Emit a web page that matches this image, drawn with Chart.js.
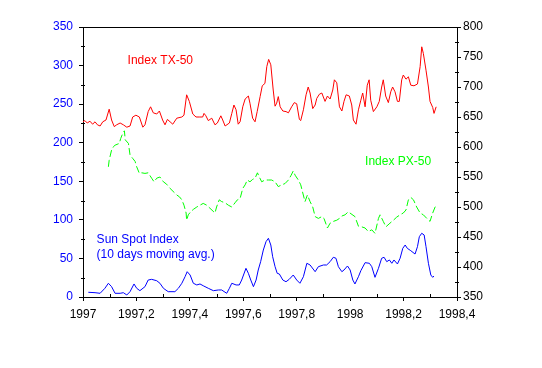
<!DOCTYPE html>
<html>
<head>
<meta charset="utf-8">
<script src="https://cdn.jsdelivr.net/npm/chart.js@4/dist/chart.umd.min.js"></script>
<style>
    html, body { margin: 0; padding: 0; background: #fff; }
    canvas { display: block; }
</style>
</head>
<body>
<canvas id="chart" width="542" height="368"></canvas>
<script>
// Index TX-50 (right axis)
const txYears = [1997.000, 1997.007, 1997.016, 1997.026, 1997.036, 1997.045, 1997.054, 1997.064, 1997.074, 1997.086,
    1997.098, 1997.107, 1997.117, 1997.126, 1997.139, 1997.151, 1997.164, 1997.176, 1997.186, 1997.198,
    1997.211, 1997.224, 1997.232, 1997.244, 1997.253, 1997.263, 1997.276, 1997.286, 1997.298, 1997.307,
    1997.316, 1997.326, 1997.336, 1997.351, 1997.370, 1997.378, 1997.388, 1997.398, 1997.411, 1997.423,
    1997.435, 1997.448, 1997.453, 1997.460, 1997.469, 1997.482, 1997.494, 1997.503, 1997.516, 1997.523,
    1997.532, 1997.548, 1997.557, 1997.565, 1997.573, 1997.581, 1997.588, 1997.598, 1997.607, 1997.619,
    1997.625, 1997.635, 1997.644, 1997.652, 1997.663, 1997.671, 1997.681, 1997.688, 1997.695, 1997.703,
    1997.712, 1997.719, 1997.725, 1997.731, 1997.738, 1997.748, 1997.760, 1997.769, 1997.781, 1997.791,
    1997.800, 1997.810, 1997.815, 1997.825, 1997.835, 1997.843, 1997.850, 1997.860, 1997.869, 1997.875,
    1997.885, 1997.894, 1997.906, 1997.915, 1997.925, 1997.935, 1997.941, 1997.950, 1997.960, 1997.969,
    1997.977, 1997.985, 1997.997, 1998.006, 1998.012, 1998.022, 1998.031, 1998.040, 1998.047, 1998.056,
    1998.064, 1998.071, 1998.077, 1998.087, 1998.100, 1998.109, 1998.118, 1998.124, 1998.133, 1998.143,
    1998.152, 1998.159, 1998.168, 1998.177, 1998.184, 1998.193, 1998.199, 1998.209, 1998.218, 1998.227,
    1998.239, 1998.252, 1998.262, 1998.268, 1998.274, 1998.284, 1998.293, 1998.299, 1998.309, 1998.314,
    1998.322];
const txValues = [642, 644, 640, 643, 638, 642, 637, 635, 642, 645,
    663, 645, 634, 637, 640, 637, 633, 635, 650, 653,
    650, 633, 637, 659, 667, 657, 655, 660, 645, 637,
    646, 642, 638, 648, 650, 653, 687, 676, 655, 650,
    650, 650, 656, 652, 644, 648, 637, 640, 652, 645,
    635, 640, 656, 670, 662, 638, 642, 667, 680, 685,
    673, 648, 642, 659, 684, 702, 706, 734, 746, 737,
    695, 668, 673, 684, 667, 660, 659, 657, 667, 674,
    672, 646, 644, 662, 687, 700, 690, 664, 670, 681,
    688, 690, 676, 685, 680, 695, 712, 707, 667, 660,
    676, 687, 685, 670, 645, 638, 662, 678, 690, 667,
    703, 712, 678, 659, 667, 676, 700, 712, 685, 674,
    692, 700, 692, 676, 676, 712, 720, 713, 717, 703,
    702, 705, 734, 767, 756, 728, 700, 676, 666, 656,
    667];

// Index PX-50 (right axis)
const pxYears = [1997.095, 1997.098, 1997.107, 1997.113, 1997.120, 1997.136, 1997.141, 1997.149, 1997.155, 1997.158,
    1997.170, 1997.176, 1997.186, 1997.195, 1997.201, 1997.211, 1997.220, 1997.232, 1997.244, 1997.257,
    1997.266, 1997.276, 1997.288, 1997.301, 1997.313, 1997.326, 1997.351, 1997.361, 1997.370, 1997.378,
    1997.386, 1997.388, 1997.394, 1997.403, 1997.413, 1997.426, 1997.438, 1997.450, 1997.463, 1997.475,
    1997.494, 1997.500, 1997.510, 1997.519, 1997.532, 1997.544, 1997.557, 1997.569, 1997.578, 1997.588,
    1997.598, 1997.607, 1997.615, 1997.625, 1997.635, 1997.644, 1997.653, 1997.660, 1997.669, 1997.681,
    1997.694, 1997.706, 1997.719, 1997.731, 1997.744, 1997.756, 1997.769, 1997.778, 1997.787, 1997.794,
    1997.806, 1997.815, 1997.831, 1997.840, 1997.850, 1997.860, 1997.869, 1997.881, 1997.894, 1997.902,
    1997.915, 1997.925, 1997.937, 1997.950, 1997.960, 1997.969, 1997.981, 1997.993, 1998.018, 1998.031,
    1998.043, 1998.056, 1998.068, 1998.081, 1998.093, 1998.106, 1998.112, 1998.124, 1998.134, 1998.149,
    1998.162, 1998.174, 1998.187, 1998.199, 1998.209, 1998.218, 1998.227, 1998.237, 1998.249, 1998.262,
    1998.274, 1998.287, 1998.299, 1998.309, 1998.318, 1998.324];
const pxValues = [567, 578, 595, 600, 603, 606, 614, 623, 627, 612,
    606, 587, 581, 576, 567, 556, 557, 556, 557, 548,
    542, 548, 550, 542, 538, 531, 520, 517, 512, 503,
    490, 478, 487, 492, 496, 500, 503, 506, 503, 498,
    490, 500, 512, 509, 507, 503, 500, 507, 512, 514,
    531, 537, 545, 542, 546, 548, 557, 550, 542, 545,
    545, 545, 542, 534, 537, 539, 545, 552, 560, 553,
    545, 537, 509, 520, 509, 500, 484, 481, 484, 481,
    465, 473, 476, 478, 481, 485, 487, 492, 484, 468,
    467, 465, 459, 462, 456, 481, 487, 476, 467, 473,
    478, 483, 487, 490, 495, 512, 516, 512, 500, 490,
    487, 481, 476, 490, 500, 503];

// Sun Spot Index, 10 days moving avg. (left axis)
const ssYears = [1997.020, 1997.045, 1997.064, 1997.082, 1997.095, 1997.107, 1997.120, 1997.139, 1997.151, 1997.164,
    1997.176, 1997.191, 1997.201, 1997.213, 1997.232, 1997.244, 1997.257, 1997.276, 1997.288, 1997.301,
    1997.319, 1997.344, 1997.357, 1997.370, 1997.382, 1997.390, 1997.401, 1997.413, 1997.426, 1997.438,
    1997.450, 1997.469, 1997.488, 1997.507, 1997.519, 1997.538, 1997.548, 1997.557, 1997.573, 1997.585,
    1997.594, 1997.610, 1997.619, 1997.628, 1997.638, 1997.648, 1997.656, 1997.665, 1997.675, 1997.685,
    1997.694, 1997.703, 1997.710, 1997.719, 1997.727, 1997.735, 1997.748, 1997.760, 1997.772, 1997.787,
    1997.800, 1997.812, 1997.825, 1997.838, 1997.850, 1997.869, 1997.881, 1997.900, 1997.912, 1997.925,
    1997.937, 1997.947, 1997.956, 1997.969, 1997.977, 1997.990, 1998.000, 1998.010, 1998.018, 1998.031,
    1998.040, 1998.056, 1998.072, 1998.081, 1998.093, 1998.106, 1998.118, 1998.127, 1998.137, 1998.147,
    1998.156, 1998.164, 1998.177, 1998.187, 1998.197, 1998.206, 1998.214, 1998.227, 1998.243, 1998.252,
    1998.259, 1998.268, 1998.277, 1998.284, 1998.293, 1998.302, 1998.309, 1998.314];
const ssValues = [6.1, 5.6, 4.8, 11.3, 17.8, 13.4, 4.8, 4.8, 5.6, 2.6,
    6.9, 16.9, 11.3, 8.2, 13.4, 22.0, 22.9, 21.1, 17.8, 11.3,
    6.9, 6.9, 11.3, 17.8, 26.3, 32.8, 28.5, 17.8, 15.6, 16.9,
    14.6, 11.3, 8.2, 9.1, 9.1, 4.8, 11.3, 17.8, 15.6, 15.6,
    22.0, 37.2, 30.7, 22.0, 13.4, 22.0, 35.0, 45.8, 60.9, 71.7,
    76.1, 67.4, 52.2, 39.3, 30.7, 29.8, 22.0, 19.8, 22.9, 28.5,
    22.0, 17.8, 26.3, 43.7, 41.5, 32.8, 39.3, 41.5, 41.5, 45.8,
    51.5, 50.2, 39.3, 32.8, 35.0, 40.2, 35.0, 22.0, 16.9, 26.3,
    34.1, 44.5, 43.7, 39.3, 25.5, 37.2, 50.2, 51.5, 45.8, 48.0,
    43.7, 48.0, 42.8, 50.2, 63.1, 67.4, 63.1, 60.0, 55.7, 65.2,
    78.2, 82.6, 80.4, 65.2, 43.7, 28.5, 25.5, 27.2];

// text labels placed in data coordinates
const notes = [
    { text: 'Index TX-50', x: 1997.167, y: 744, axis: 'y2', color: '#ff0000' },
    { text: 'Index PX-50', x: 1998.056, y: 576, axis: 'y2', color: '#00ff00' },
    { text: 'Sun Spot Index', x: 1997.051, y: 73.9, axis: 'y', color: '#0000ff' },
    { text: '(10 days moving avg.)', x: 1997.051, y: 55.1, axis: 'y', color: '#0000ff' }
];

const font = { family: 'Arial, "Liberation Sans", sans-serif', size: 12 };

function toPoints(xs, ys) {
    return xs.map((x, i) => ({ x: x, y: ys[i] }));
}

function yearLabel(v) {
    return String(Math.round(v * 10) / 10).replace('.', ',');
}

// box round the plot and the small minor ticks
const framePlugin = {
    id: 'frame',
    afterDraw(chart) {
        const { ctx, chartArea: a, scales } = chart;
        ctx.save();
        ctx.strokeStyle = '#000';
        ctx.lineWidth = 1;
        ctx.beginPath();
        ctx.moveTo(a.left, Math.round(a.top) + 0.5);
        ctx.lineTo(a.right, Math.round(a.top) + 0.5);
        // minor ticks, left axis
        for (let v = 25; v < 350; v += 50) {
            const y = Math.round(scales.y.getPixelForValue(v)) + 0.5;
            ctx.moveTo(a.left - 2, y);
            ctx.lineTo(a.left + 2, y);
        }
        // minor ticks, right axis
        for (let v = 375; v < 800; v += 50) {
            const y = Math.round(scales.y2.getPixelForValue(v)) + 0.5;
            ctx.moveTo(a.right - 2, y);
            ctx.lineTo(a.right + 2, y);
        }
        // minor ticks, x axis
        for (let k = 1; k < 14; k += 2) {
            const x = Math.round(scales.x.getPixelForValue(1997 + k / 10)) + 0.5;
            ctx.moveTo(x, a.bottom - 3);
            ctx.lineTo(x, a.bottom);
        }
        ctx.stroke();
        ctx.restore();
    }
};

const notesPlugin = {
    id: 'notes',
    afterDraw(chart) {
        const ctx = chart.ctx;
        ctx.save();
        ctx.font = font.size + 'px ' + font.family;
        ctx.textAlign = 'left';
        ctx.textBaseline = 'middle';
        notes.forEach(n => {
            ctx.fillStyle = n.color;
            ctx.fillText(n.text, chart.scales.x.getPixelForValue(n.x), chart.scales[n.axis].getPixelForValue(n.y));
        });
        ctx.restore();
    }
};

const ctx = document.getElementById('chart').getContext('2d');
new Chart(ctx, {
    type: 'scatter',
    data: {
        datasets: [
            {
                label: 'Index TX-50',
                data: toPoints(txYears, txValues),
                yAxisID: 'y2',
                showLine: true,
                borderColor: '#ff0000',
                borderWidth: 1,
                pointRadius: 0,
                tension: 0
            },
            {
                label: 'Index PX-50',
                data: toPoints(pxYears, pxValues),
                yAxisID: 'y2',
                showLine: true,
                borderColor: '#00ff00',
                borderWidth: 1,
                borderDash: [7, 3],
                pointRadius: 0,
                tension: 0
            },
            {
                label: 'Sun Spot Index',
                data: toPoints(ssYears, ssValues),
                yAxisID: 'y',
                showLine: true,
                borderColor: '#0000ff',
                borderWidth: 1,
                pointRadius: 0,
                tension: 0
            }
        ]
    },
    options: {
        responsive: false,
        animation: false,
        devicePixelRatio: 1,
        layout: { padding: { top: 27, left: 0, right: 0, bottom: 0 } },
        plugins: {
            legend: { display: false },
            tooltip: { enabled: false }
        },
        scales: {
            x: {
                type: 'linear',
                min: 1997,
                max: 1998.4,
                afterFit: s => { s.height = 71; },
                ticks: { stepSize: 0.2, color: '#000', font: font, padding: 6, maxRotation: 0, autoSkip: false, callback: yearLabel },
                grid: { drawOnChartArea: false, tickLength: 4, color: '#000' },
                border: { color: '#000', width: 1 }
            },
            y: {
                position: 'left',
                min: 0,
                max: 350,
                afterFit: s => { s.width = 83; },
                ticks: { stepSize: 50, color: '#0000ff', font: font, padding: 6 },
                grid: { drawOnChartArea: false, tickLength: 4, color: '#000' },
                border: { color: '#000', width: 1 }
            },
            y2: {
                position: 'right',
                min: 350,
                max: 800,
                afterFit: s => { s.width = 85; },
                ticks: { stepSize: 50, color: '#000', font: font, padding: 2 },
                grid: { drawOnChartArea: false, tickLength: 4, color: '#000' },
                border: { color: '#000', width: 1 }
            }
        }
    },
    plugins: [framePlugin, notesPlugin]
});
</script>
</body>
</html>
